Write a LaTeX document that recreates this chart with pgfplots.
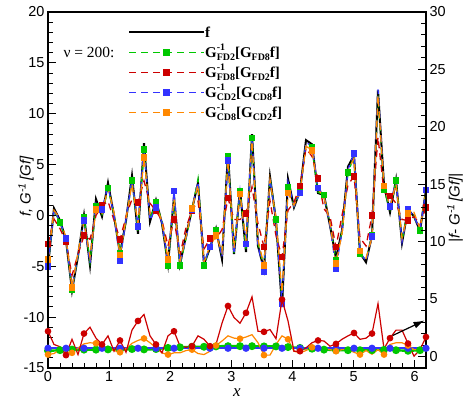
\documentclass[border=0pt]{standalone}
\usepackage{pgfplots}
\pgfplotsset{compat=1.18}
\usepackage{pgfplotstable}
\usepackage{fontspec}
\setmainfont{Liberation Serif}
\newfontfamily\sansfont{Liberation Sans}
\usetikzlibrary{arrows.meta}
\definecolor{cg}{RGB}{0,200,0}
\definecolor{cr}{RGB}{204,0,0}
\definecolor{cb}{RGB}{51,51,255}
\definecolor{co}{RGB}{255,136,0}
\newcommand\sub[1]{{\fontsize{10}{12}\selectfont\bfseries #1}}
\newcommand\GG[2]{\textbf{G}\rlap{\raisebox{6.5bp}{\sub{-1}}}\raisebox{-3.5bp}{\sub{#1}}\textbf{[G}\raisebox{-3.5bp}{\sub{#2}}\textbf{f]}}

\pgfplotstableread{
x f g r b o eg er eb eo
0.0000 -5.0 -5.0 -2.8 -5.0 -4.3 0.50 2.20 0.72 0.17
0.0982 0.7 0.5 -0.35 0.6 0.5 0.52 1.05 0.72 0.26
0.1963 -0.5 -0.7 -1.3 -0.6 -0.3 0.55 0.85 0.72 0.60
0.2945 -2.4 -2.4 -2.6 -2.3 -2.2 0.55 0.12 0.72 0.37
0.3927 -7.4 -7.3 -5.9 -7.2 -7.1 0.60 1.50 0.72 0.32
0.4909 -4.0 -4.0 -3.8 -3.9 -3.6 0.58 0.17 0.72 0.75
0.5890 0.0 -0.2 -2.0 -0.5 -0.6 0.60 2.00 0.72 1.10
0.6872 -4.9 -4.6 -2.35 -4.7 -4.1 0.60 2.55 0.72 1.20
0.7854 1.6 0.9 0.0 1.2 0.6 0.60 1.60 0.72 1.15
0.8836 -0.1 0.0 0.95 0.6 0.2 0.60 1.05 0.72 0.90
0.9817 3.2 2.7 1.4 2.9 2.7 0.62 1.80 0.72 0.75
1.0799 0.0 0.1 -0.46 0.0 0.3 0.62 0.46 0.72 0.52
1.1781 -3.8 -3.7 -2.4 -4.4 -3.9 0.60 1.40 0.72 0.37
1.2763 -0.5 -0.5 -0.1 -0.4 -0.3 0.62 0.37 0.72 0.67
1.3744 3.9 3.4 1.6 3.6 3.1 0.65 2.30 0.72 1.15
1.4726 -1.8 -1.5 1.3 -1.1 -0.8 0.65 3.10 0.72 1.40
1.5708 7.1 6.5 3.4 6.8 5.7 0.62 3.66 0.72 1.57
1.6690 -0.6 -0.4 1.2 -0.5 0.2 0.62 1.80 0.72 1.20
1.7671 1.5 1.3 0.45 0.8 1.0 0.65 1.05 0.72 0.75
1.8653 -0.8 -0.6 -0.5 -0.7 -0.6 0.70 0.32 0.72 0.32
1.9635 -4.8 -4.9 -3.0 -4.7 -4.3 0.75 1.80 0.72 0.17
2.0617 1.8 1.7 -0.4 2.4 1.6 0.78 2.20 0.72 0.32
2.1598 -4.8 -4.9 -3.9 -4.7 -4.5 0.80 0.90 0.72 0.32
2.2580 -2.0 -2.3 -1.2 -2.3 -2.1 0.82 0.80 0.72 0.52
2.3562 0.6 0.5 0.5 0.6 0.7 0.85 0.90 0.72 0.60
2.4544 3.2 3.6 1.4 3.3 3.0 0.85 1.80 0.72 0.26
2.5525 -4.8 -4.9 -3.3 -4.7 -4.6 0.85 1.50 0.72 0.17
2.6507 -3.2 -3.1 -2.3 -3.1 -3.0 0.88 0.90 0.72 0.46
2.7489 -1.3 -1.5 -2.3 -1.4 -2.0 0.88 1.05 0.72 0.96
2.8471 -4.3 -4.0 -1.4 -4.1 -3.6 0.90 2.90 0.72 1.35
2.9452 6.1 5.8 1.7 5.4 5.4 0.90 4.40 0.72 1.80
3.0434 -3.8 -3.7 -0.4 -3.8 -3.2 0.90 3.40 0.72 1.60
3.1416 2.5 2.4 -0.4 2.4 2.1 0.90 2.90 0.72 1.55
3.2398 -3.6 -3.3 0.2 -2.8 -2.5 0.90 3.80 0.72 1.70
3.3379 8.0 7.6 2.8 7.8 7.3 0.90 5.20 0.72 1.90
3.4361 -3.0 -2.8 -0.8 -3.0 -2.4 0.88 2.20 0.72 1.20
3.5343 -5.3 -5.1 -3.1 -5.5 -4.9 0.88 2.15 0.72 0.12
3.6325 3.8 3.7 1.45 3.6 3.5 0.88 2.35 0.72 0.12
3.7306 -0.5 -0.4 -2.0 -0.5 -0.3 0.88 1.55 0.72 1.05
3.8288 -9.0 -8.5 -4.1 -8.7 -7.6 0.85 4.96 0.72 1.80
3.9270 3.6 2.8 0.5 3.3 2.2 0.82 3.10 0.72 1.50
4.0252 0.8 0.9 1.3 0.9 1.0 0.78 0.46 0.72 0.46
4.1233 2.4 2.4 2.9 2.2 2.3 0.75 0.46 0.72 0.32
4.2215 7.4 7.0 6.6 7.2 6.8 0.70 0.75 0.72 0.52
4.3197 7.0 6.7 5.8 6.8 6.4 0.68 1.20 0.72 0.80
4.4179 2.2 2.3 3.6 2.7 2.6 0.62 1.40 0.72 0.85
4.5160 2.0 2.0 0.65 1.9 1.8 0.60 1.35 0.72 0.67
4.6142 -1.0 -0.9 -0.1 -1.0 -0.8 0.58 0.90 0.72 0.60
4.7124 -4.2 -4.4 -3.1 -5.2 -4.7 0.55 1.10 0.72 0.46
4.8106 -1.5 -1.6 0.0 -1.6 -1.8 0.55 1.50 0.72 0.60
4.9087 4.8 4.2 3.0 4.5 4.4 0.55 1.80 0.72 0.60
5.0069 5.9 5.8 3.85 6.1 5.6 0.55 2.05 0.72 0.37
5.1051 -3.7 -3.8 -2.2 -3.6 -3.5 0.55 1.50 0.72 0.17
5.2033 -4.6 -4.4 -3.0 -4.5 -4.2 0.58 1.60 0.72 0.52
5.3014 -2.0 -2.0 0.0 -2.1 -2.2 0.55 2.00 0.72 0.20
5.3996 12.3 11.8 7.7 12.4 11.8 0.60 4.60 0.72 0.60
5.4978 3.0 2.5 2.3 2.9 2.9 0.58 0.67 0.72 0.17
5.5960 0.3 0.6 1.9 0.9 0.9 0.60 1.60 0.72 1.05
5.6941 3.5 3.4 1.2 3.4 3.1 0.55 2.30 0.72 1.20
5.7923 -2.7 -2.5 -0.4 -2.6 -2.2 0.52 2.30 0.72 1.20
5.8905 0.6 0.6 -0.5 0.6 0.2 0.50 1.13 0.72 0.96
5.9887 -0.1 -0.1 -0.1 -0.1 0.3 0.52 0.03 0.72 0.60
6.0868 -1.5 -1.5 -0.9 -1.4 -1.3 0.55 0.60 0.72 0.60
6.1850 2.5 2.4 0.8 2.5 2.3 0.55 1.70 0.72 0.60
}\data

\pgfplotsset{
  common/.style={
    at={(0,0)}, anchor=south west,
    width=378bp, height=356bp, scale only axis,
    xmin=0, xmax=6.185,
    tick align=inside,
    major tick length=8bp, minor tick length=5bp,
    axis line style={line width=2bp},
    every tick/.style={black, line width=1bp},
    ticklabel style={font=\sansfont\fontsize{14.5}{17}\selectfont},
    /pgf/number format/assume math mode=true,
  },
  dsh/.style={color=#1, draw=#1, line width=1.3bp, dash pattern=on 7bp off 5bp, mark=square*, mark size=2.7bp,
     mark options={solid, fill=#1, draw=#1}},
  err/.style={color=#1, draw=#1, line width=1.2bp, mark=*, mark size=2.7bp, mark options={solid, fill=#1, draw=#1}},
}

\begin{document}
\begin{tikzpicture}
\begin{axis}[common,
  ymin=-15, ymax=20,
  xtick={0,1,...,6}, minor x tick num=4,
  ytick={-15,-10,...,20}, minor y tick num=4,
  xtick pos=left, ytick pos=left,
  axis on top,
  xlabel={\fontsize{17}{20}\selectfont\textit{x}},
  ylabel={\sansfont\itshape\fontsize{15}{18}\selectfont f, G\textsuperscript{-1}\,[Gf]},
  ylabel style={at={(axis description cs:-0.058,0.51)}, anchor=center},
  legend image code/.code={\draw[#1, mark repeat=2, mark phase=2] plot coordinates {(0bp,5bp) (37.5bp,5bp) (75bp,5bp)};},
  legend cell align=left,
  legend style={draw=none, fill=none, at={(rel axis cs:0.2116,0.958)}, anchor=north west,
    inner sep=0pt, row sep=0pt, font=\fontsize{15}{18}\selectfont,
    nodes={inner sep=0pt, text height=10bp, text depth=10bp},
    /tikz/every even column/.append style={column sep=12bp}},
]
\addplot[black, line width=2bp, no marks] table[x=x, y=f] {\data};
\addlegendentry{\textbf{f}}
\addplot[dsh=cg, mark repeat=2, mark phase=1] table[x=x, y=g] {\data};
\addlegendentry{\GG{FD2}{FD8}}
\addplot[dsh=cr, mark repeat=3, mark phase=1] table[x=x, y=r] {\data};
\addlegendentry{\GG{FD8}{FD2}}
\addplot[dsh=cb, mark repeat=3, mark phase=1] table[x=x, y=b] {\data};
\addlegendentry{\GG{CD2}{CD8}}
\addplot[dsh=co, mark repeat=4, mark phase=1] table[x=x, y=o] {\data};
\addlegendentry{\GG{CD8}{CD2}}
\node[anchor=east, font=\fontsize{15.5}{18}\selectfont] at (rel axis cs:0.185,0.8876) {ν = 200:};
\end{axis}
\begin{axis}[common,
  ymin=-1, ymax=30,
  hide x axis,
  ytick={0,5,...,30}, minor y tick num=4,
  ytick pos=right, yticklabel pos=right,
  ylabel={\sansfont\itshape\fontsize{15}{18}\selectfont |f- G\textsuperscript{-1}\,[Gf]|},
  ylabel style={at={(axis description cs:1.077,0.45)}, anchor=center},
]
\addplot[err=cg, line width=2.4bp, mark repeat=2, mark phase=1] table[x=x, y=eg] {\data};
\addplot[err=cb, line width=1.8bp, mark repeat=3, mark phase=1] table[x=x, y=eb] {\data};
\addplot[err=co, mark repeat=4, mark phase=1] table[x=x, y=eo] {\data};
\addplot[err=cr, mark repeat=3, mark phase=1] table[x=x, y=er] {\data};
\draw[-{Latex[length=11bp,width=7bp]}, line width=1.2bp] (axis cs:5.64,1.83) -- (axis cs:6.16,3.14);
\end{axis}
\pgfresetboundingbox
\useasboundingbox (-48bp,-35bp) rectangle (420bp,368bp);
\end{tikzpicture}
\end{document}
